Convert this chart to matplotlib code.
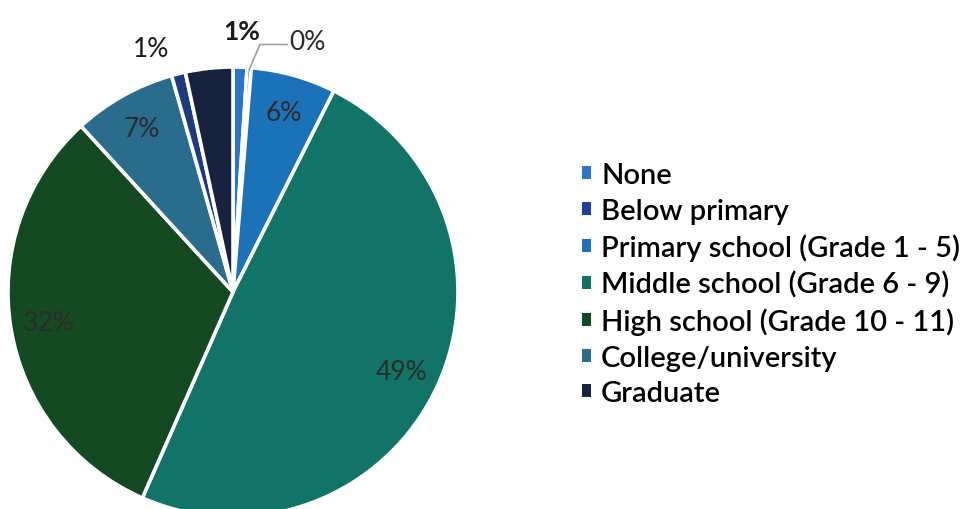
import numpy as np
import matplotlib
matplotlib.use("Agg")
import matplotlib.pyplot as plt
from matplotlib.patches import Patch

plt.rcParams['font.family'] = ['Lato', 'DejaVu Sans']

# education level shares (%), clockwise from 12 o'clock
categories = ["None", "Below primary", "Primary school (Grade 1 - 5)",
              "Middle school (Grade 6 - 9)", "High school (Grade 10 - 11)",
              "College/university", "Other", "Graduate"]
shares = [1.0, 0.3, 6.1, 49.2, 31.6, 7.4, 1.0, 3.4]
colors = ["#2a74c9", "#203f9a", "#1c72b8", "#127466", "#134a22",
          "#2a6c8c", "#1f3a7c", "#17223f"]
legend_names = categories[:6] + categories[7:]
legend_colors = colors[:6] + colors[7:]

W, H = 962, 510
fig = plt.figure(figsize=(W / 100, H / 100), dpi=100)
cx, cy, r = 233, 293, 225
ax = fig.add_axes([(cx - r) / W, (H - cy - r) / H, 2 * r / W, 2 * r / H])

wedges, _ = ax.pie(shares, colors=colors, startangle=90, counterclock=False,
                   radius=1.0, wedgeprops=dict(edgecolor="white", linewidth=2.6))
for w in wedges:
    w.set_clip_on(False)
ax.set_xlim(-1, 1)
ax.set_ylim(-1, 1)
ax.set_aspect("auto")
ax.axis("off")


def polar(angle_deg, dist):
    a = np.deg2rad(angle_deg)
    return dist * np.cos(a), dist * np.sin(a)


total = sum(shares)
fs = 19
for i, w in enumerate(wedges):
    mid = (w.theta1 + w.theta2) / 2
    pct = "%d%%" % round(shares[i] / total * 100)
    name = categories[i]
    if name == "Graduate":
        continue
    if shares[i] >= 5:
        x, y = polar(mid, 0.83)
        ax.text(x, y, pct, ha="center", va="center",
                fontsize=fs, color="#2b2b2b", clip_on=False)
    elif name == "Below primary":
        x, y = polar(90 - 16.6, 1.16)
        ax.text(x, y, pct, ha="center", va="center",
                fontsize=fs, color="#2b2b2b", clip_on=False)
        x0, y0 = polar(mid, 0.99)
        ax.plot([x0, 0.12, 0.24], [y0, 1.10, 1.10], color="#a0a0a0", lw=1.2,
                clip_on=False)
    elif name == "Other":
        x, y = polar(mid + 4.5, 1.14)
        ax.text(x, y, pct, ha="center", va="center",
                fontsize=fs, color="#1a1a1a", clip_on=False)
    else:
        x, y = polar(mid, 1.16)
        ax.text(x, y, pct, ha="center", va="center",
                fontsize=fs, color="#1a1a1a", fontweight="bold", clip_on=False)

handles = [Patch(facecolor=c, edgecolor="none") for c in legend_colors]
fig.legend(handles, legend_names, loc="upper left",
           bbox_to_anchor=(556 / W, 1 - 137 / H), frameon=False,
           handlelength=0.3, handleheight=0.3,
           handletextpad=0.35, labelspacing=0.33,
           prop=dict(family=['Lato', 'DejaVu Sans'], size=21, weight='semibold'))

fig.savefig("out.png", dpi=100)
